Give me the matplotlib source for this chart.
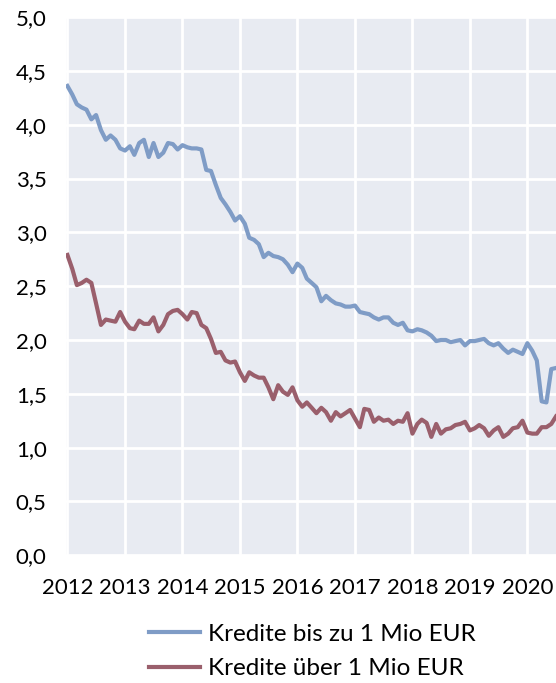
import pandas as pd
import numpy as np
import matplotlib.pyplot as plt
import matplotlib.dates as mdates
from matplotlib.ticker import FuncFormatter

# monthly data, Jan 2012 - Jul 2020
months = pd.date_range("2012-01-01", "2020-07-01", freq="MS")

bis_1_mio = [
    4.36, 4.28, 4.19, 4.16, 4.14, 4.05, 4.09, 3.95, 3.86, 3.90, 3.86, 3.78,
    3.76, 3.80, 3.72, 3.83, 3.86, 3.70, 3.83, 3.70, 3.74, 3.83, 3.82, 3.77,
    3.81, 3.79, 3.78, 3.78, 3.77, 3.58, 3.57, 3.44, 3.32, 3.26, 3.19, 3.11,
    3.15, 3.08, 2.95, 2.93, 2.89, 2.77, 2.81, 2.78, 2.77, 2.75, 2.70, 2.63,
    2.71, 2.67, 2.57, 2.53, 2.49, 2.36, 2.41, 2.37, 2.34, 2.33, 2.31, 2.31,
    2.32, 2.26, 2.25, 2.24, 2.21, 2.19, 2.21, 2.21, 2.16, 2.14, 2.16, 2.09,
    2.08, 2.10, 2.09, 2.07, 2.04, 1.99, 2.00, 2.00, 1.98, 1.99, 2.00, 1.95,
    1.99, 1.99, 2.00, 2.01, 1.97, 1.95, 1.97, 1.92, 1.88, 1.91, 1.89, 1.87,
    1.97, 1.90, 1.81, 1.43, 1.42, 1.73, 1.74,
]

ueber_1_mio = [
    2.79, 2.66, 2.51, 2.53, 2.56, 2.53, 2.34, 2.14, 2.19, 2.18, 2.17, 2.26,
    2.17, 2.11, 2.10, 2.18, 2.15, 2.15, 2.21, 2.08, 2.14, 2.24, 2.27, 2.28,
    2.24, 2.19, 2.26, 2.25, 2.14, 2.11, 2.01, 1.88, 1.89, 1.81, 1.79, 1.80,
    1.70, 1.62, 1.70, 1.67, 1.65, 1.65, 1.56, 1.45, 1.58, 1.52, 1.49, 1.56,
    1.44, 1.38, 1.42, 1.37, 1.32, 1.37, 1.33, 1.25, 1.33, 1.29, 1.32, 1.35,
    1.27, 1.19, 1.36, 1.35, 1.24, 1.28, 1.25, 1.26, 1.22, 1.25, 1.24, 1.32,
    1.13, 1.22, 1.26, 1.23, 1.10, 1.22, 1.13, 1.17, 1.18, 1.21, 1.22, 1.24,
    1.16, 1.18, 1.21, 1.18, 1.11, 1.16, 1.19, 1.10, 1.13, 1.18, 1.19, 1.25,
    1.14, 1.13, 1.13, 1.19, 1.19, 1.22, 1.29,
]

labels = ["Kredite bis zu 1 Mio EUR", "Kredite über 1 Mio EUR"]
colors = ["#7f9cc6", "#9a5f6c"]

plt.rcParams["font.family"] = ["Lato", "DejaVu Sans"]

fig = plt.figure(figsize=(5.56, 6.83), dpi=100)
ax = fig.add_axes([0.119, 0.187, 0.881, 0.788])
ax.set_facecolor("#e8ebf2")

ax.plot(months, bis_1_mio, color=colors[0], lw=3, label=labels[0])
ax.plot(months, ueber_1_mio, color=colors[1], lw=3, label=labels[1])

ax.set_xlim(months[0] - pd.Timedelta(days=8), months[-1])
ax.set_ylim(0, 5)
ax.set_yticks(np.arange(0, 5.01, 0.5))
ax.yaxis.set_major_formatter(FuncFormatter(lambda v, p: f"{v:.1f}".replace(".", ",")))
ax.xaxis.set_major_locator(mdates.YearLocator())
ax.xaxis.set_major_formatter(mdates.DateFormatter("%Y"))

ax.grid(True, color="white", lw=2)
ax.set_axisbelow(True)
for s in ax.spines.values():
    s.set_visible(False)
ax.tick_params(length=0, labelsize=16, colors="black")
ax.tick_params(axis="y", pad=14)
ax.tick_params(axis="x", pad=16)

fig.legend(loc="center", bbox_to_anchor=(0.562, 0.046), ncol=1, frameon=False,
           fontsize=17.5, handlelength=2.1, handletextpad=0.3, labelspacing=0.55)

fig.savefig("out.png", dpi=100)
